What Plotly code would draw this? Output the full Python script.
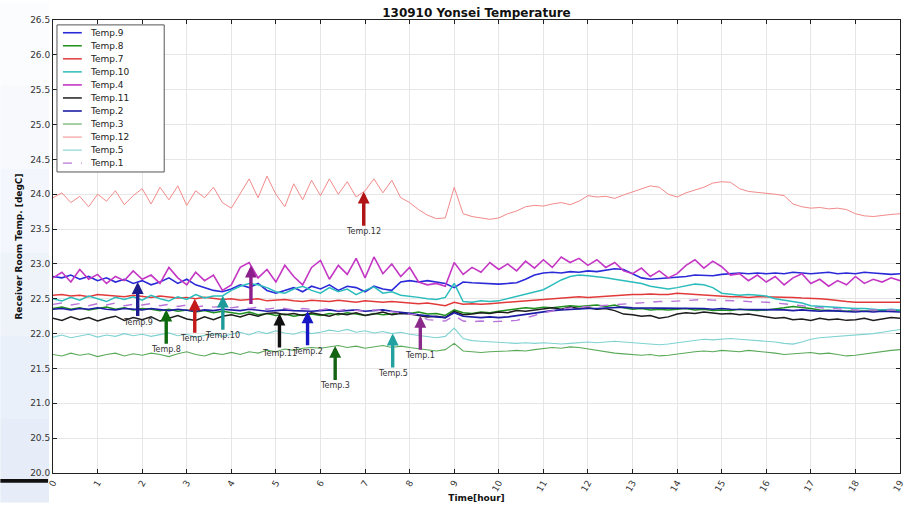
import numpy as np
import plotly.graph_objects as go

# Sample times: every 0.2 hour (12 min) from 0 to 19 h
hours = np.round(np.arange(0, 19.0001, 0.2), 1)

temp9 = [
    22.82, 22.80, 22.84, 22.78, 22.82, 22.76, 22.80, 22.74, 22.78, 22.72,
    22.76, 22.70, 22.74, 22.80, 22.72, 22.78, 22.70, 22.66, 22.62, 22.60,
    22.64, 22.70, 22.66, 22.72, 22.62, 22.58, 22.62, 22.66, 22.60, 22.68,
    22.64, 22.70, 22.62, 22.68, 22.66, 22.60, 22.68, 22.64, 22.62, 22.74,
    22.76, 22.74, 22.76, 22.74, 22.72, 22.66, 22.74, 22.73, 22.72, 22.72,
    22.71, 22.72, 22.73, 22.78, 22.84, 22.87, 22.88, 22.87, 22.89, 22.88,
    22.90, 22.89, 22.91, 22.93, 22.92, 22.86, 22.80, 22.78, 22.79, 22.80,
    22.80, 22.82, 22.84, 22.84, 22.83, 22.85, 22.86, 22.87, 22.86, 22.87,
    22.86, 22.87, 22.86, 22.88, 22.87, 22.86, 22.87, 22.88, 22.86, 22.87,
    22.86, 22.88, 22.87, 22.86, 22.85, 22.86,
]
temp8 = [
    22.36, 22.38, 22.35, 22.37, 22.34, 22.36, 22.38, 22.35, 22.37, 22.34,
    22.36, 22.35, 22.33, 22.35, 22.32, 22.34, 22.31, 22.33, 22.30, 22.32,
    22.30, 22.28, 22.31, 22.27, 22.29, 22.26, 22.28, 22.25, 22.27, 22.28,
    22.26, 22.29, 22.27, 22.30, 22.28, 22.26, 22.29, 22.27, 22.28, 22.30,
    22.29, 22.31, 22.28, 22.29, 22.26, 22.34, 22.30, 22.29, 22.31, 22.30,
    22.32, 22.34, 22.36, 22.37, 22.36, 22.38, 22.37, 22.39, 22.40, 22.39,
    22.40, 22.41, 22.39, 22.41, 22.37, 22.35, 22.36, 22.34, 22.35, 22.34,
    22.35, 22.36, 22.34, 22.35, 22.33, 22.34, 22.33, 22.35, 22.34, 22.33,
    22.34, 22.35, 22.37, 22.39, 22.38, 22.36, 22.34, 22.33, 22.33, 22.32,
    22.33, 22.32, 22.33, 22.34, 22.33, 22.33,
]
temp7 = [
    22.55, 22.56, 22.54, 22.55, 22.53, 22.56, 22.55, 22.54, 22.53, 22.55,
    22.54, 22.52, 22.54, 22.53, 22.51, 22.52, 22.50, 22.52, 22.50, 22.49,
    22.50, 22.48, 22.49, 22.50, 22.47, 22.48, 22.49, 22.47, 22.46, 22.48,
    22.47, 22.46, 22.48, 22.46, 22.45, 22.47, 22.46, 22.45, 22.46, 22.45,
    22.44, 22.43, 22.44, 22.42, 22.40, 22.45, 22.42, 22.43, 22.42, 22.43,
    22.44, 22.45, 22.46, 22.47, 22.48, 22.49, 22.50, 22.51, 22.52, 22.53,
    22.52, 22.53, 22.54, 22.55, 22.55, 22.56, 22.56, 22.57, 22.56, 22.56,
    22.58, 22.57, 22.56, 22.55, 22.54, 22.54, 22.53, 22.53, 22.52, 22.53,
    22.53, 22.52, 22.53, 22.52, 22.51, 22.51, 22.50, 22.49, 22.47, 22.46,
    22.45, 22.45, 22.44, 22.45, 22.44, 22.45,
]
temp10 = [
    22.50, 22.47, 22.52, 22.48, 22.54, 22.50, 22.46, 22.52, 22.49, 22.53,
    22.48, 22.55, 22.50, 22.47, 22.53, 22.49, 22.56, 22.51, 22.54, 22.54,
    22.62, 22.68, 22.72, 22.70, 22.66, 22.60, 22.58, 22.64, 22.68, 22.62,
    22.58, 22.66, 22.60, 22.64, 22.56, 22.62, 22.67, 22.58, 22.60, 22.55,
    22.54, 22.52, 22.50, 22.49, 22.52, 22.72, 22.46, 22.45, 22.47, 22.46,
    22.47, 22.50, 22.54, 22.56, 22.60, 22.63, 22.70, 22.77, 22.82, 22.84,
    22.83, 22.82, 22.80, 22.78, 22.76, 22.74, 22.72, 22.68, 22.66, 22.64,
    22.66, 22.69, 22.71, 22.70, 22.66, 22.58, 22.56, 22.55, 22.56, 22.55,
    22.54, 22.50, 22.48, 22.46, 22.44, 22.40, 22.39, 22.38, 22.38, 22.37,
    22.36, 22.36, 22.35, 22.34, 22.35, 22.34,
]
temp4 = [
    22.80, 22.88, 22.74, 22.92, 22.78, 22.85, 22.72, 22.82, 22.76, 22.90,
    22.78, 22.84, 22.72, 22.95, 22.80, 22.70, 22.88, 22.76, 22.84, 22.62,
    22.70, 22.95, 23.02, 22.80, 22.92, 22.74, 22.98, 22.82, 22.70, 22.95,
    23.05, 22.78, 22.98, 22.85, 23.08, 22.80, 23.10, 22.86, 23.00, 22.82,
    22.95, 22.74, 22.70, 22.72, 22.68, 23.02, 22.85, 22.95, 22.88, 23.02,
    22.92, 23.00, 22.90, 23.04, 22.94, 23.06, 22.95, 23.10, 23.02, 23.08,
    22.98, 23.06, 22.95, 23.02, 22.90, 22.86, 22.94, 22.82, 22.90, 22.80,
    22.86, 22.98, 23.06, 22.94, 23.04, 22.96, 22.84, 22.86, 22.76, 22.84,
    22.74, 22.82, 22.70, 22.80, 22.86, 22.72, 22.78, 22.68, 22.76, 22.70,
    22.82, 22.72, 22.78, 22.74, 22.80, 22.76,
]
temp11 = [
    22.22, 22.19, 22.24, 22.20, 22.23, 22.18, 22.22, 22.25, 22.19, 22.23,
    22.20, 22.24, 22.18, 22.22, 22.26, 22.21, 22.19, 22.24, 22.20, 22.25,
    22.27, 22.24, 22.28, 22.25, 22.29, 22.30, 22.27, 22.29, 22.26, 22.30,
    22.28, 22.25, 22.29, 22.27, 22.30, 22.26, 22.28, 22.31, 22.27, 22.29,
    22.28, 22.26, 22.24, 22.25, 22.23, 22.32, 22.27, 22.28, 22.30, 22.29,
    22.31, 22.30, 22.33, 22.32, 22.34, 22.36, 22.37, 22.35, 22.38, 22.36,
    22.37, 22.35, 22.36, 22.33, 22.28, 22.27, 22.25, 22.26, 22.22, 22.24,
    22.28, 22.30, 22.29, 22.31, 22.30, 22.28, 22.29, 22.27, 22.28, 22.26,
    22.24, 22.22, 22.23, 22.20, 22.21, 22.19, 22.22, 22.20, 22.21, 22.19,
    22.20, 22.22, 22.19, 22.21, 22.23, 22.22,
]
temp2 = [
    22.35, 22.36, 22.34, 22.36, 22.35, 22.37, 22.35, 22.34, 22.36, 22.35,
    22.34, 22.36, 22.35, 22.33, 22.35, 22.34, 22.32, 22.34, 22.33, 22.35,
    22.34, 22.33, 22.35, 22.34, 22.32, 22.33, 22.34, 22.33, 22.32, 22.32,
    22.33, 22.34, 22.32, 22.33, 22.34, 22.32, 22.33, 22.34, 22.32, 22.31,
    22.29, 22.27, 22.25, 22.24, 22.23, 22.30, 22.25, 22.24, 22.23, 22.24,
    22.23, 22.24, 22.26, 22.28, 22.30, 22.31, 22.33, 22.34, 22.35, 22.35,
    22.36, 22.36, 22.37, 22.37, 22.38, 22.37, 22.37, 22.36, 22.37, 22.36,
    22.36, 22.37, 22.36, 22.36, 22.35, 22.36, 22.35, 22.35, 22.34, 22.35,
    22.34, 22.35, 22.34, 22.33, 22.34, 22.33, 22.32, 22.33, 22.32, 22.32,
    22.31, 22.32, 22.31, 22.32, 22.31, 22.31,
]
temp3 = [
    21.70, 21.68, 21.72, 21.69, 21.71, 21.67, 21.70, 21.72, 21.68, 21.71,
    21.69, 21.72, 21.70, 21.67, 21.71, 21.74, 21.70, 21.68, 21.72, 21.70,
    21.73, 21.70, 21.74, 21.72, 21.76, 21.74, 21.78, 21.76, 21.79, 21.80,
    21.79, 21.81, 21.83, 21.80, 21.82, 21.79, 21.81, 21.83, 21.80, 21.82,
    21.80, 21.78, 21.76, 21.75, 21.77, 21.86, 21.75, 21.74, 21.73, 21.74,
    21.74, 21.75, 21.76, 21.75, 21.77, 21.79, 21.80, 21.79, 21.81, 21.80,
    21.78, 21.75, 21.73, 21.72, 21.71, 21.70, 21.69, 21.70, 21.68, 21.69,
    21.71, 21.73, 21.74, 21.75, 21.74, 21.76, 21.75, 21.74, 21.76, 21.75,
    21.74, 21.72, 21.70, 21.71, 21.72, 21.73, 21.71, 21.72, 21.70, 21.68,
    21.69, 21.71, 21.73, 21.74, 21.76, 21.77,
]
temp12 = [
    23.95, 24.02, 23.88, 23.97, 23.82, 24.00, 23.90, 24.05, 23.85, 23.98,
    24.08, 23.86, 24.10, 23.92, 24.12, 23.84, 24.05, 23.95, 24.10, 23.88,
    23.80, 24.02, 24.22, 23.95, 24.26, 24.00, 23.82, 24.15, 23.92, 24.20,
    23.98, 24.22, 24.00, 24.18, 23.96, 24.05, 24.22, 24.02, 24.20, 23.95,
    23.88, 23.78, 23.70, 23.65, 23.66, 24.10, 23.72, 23.68, 23.66, 23.64,
    23.66, 23.72, 23.76, 23.82, 23.84, 23.83, 23.86, 23.88, 23.85, 23.90,
    23.98, 23.96, 23.97, 23.94, 23.99, 24.03, 24.07, 24.12, 24.10, 24.00,
    23.96, 24.02, 24.06, 24.10, 24.16, 24.18, 24.17, 24.08, 24.04, 24.03,
    24.02, 24.00, 23.98, 23.86, 23.82, 23.80, 23.81, 23.79, 23.80, 23.78,
    23.72, 23.69, 23.68, 23.70, 23.71, 23.72,
]
temp5 = [
    21.95, 21.98, 21.94, 21.97, 21.99, 21.95, 21.98, 21.96, 22.00, 21.97,
    21.99, 21.96, 21.98, 22.01, 21.97, 21.99, 21.95, 21.98, 22.00, 21.96,
    21.99, 22.02, 21.98, 22.03, 22.00, 22.04, 22.01, 21.99, 22.03, 22.00,
    22.02, 22.05, 22.03, 22.06, 22.02, 22.04, 22.01, 22.03, 22.00, 22.02,
    21.99, 21.97, 21.95, 21.94, 21.96, 22.08, 21.93, 21.90, 21.89, 21.88,
    21.88, 21.87, 21.86, 21.87, 21.86, 21.87, 21.86, 21.85, 21.86, 21.87,
    21.88, 21.87, 21.88, 21.89, 21.88, 21.87, 21.86, 21.85, 21.84, 21.85,
    21.87, 21.89, 21.91, 21.92, 21.91, 21.92, 21.93, 21.92, 21.91, 21.90,
    21.90, 21.88, 21.86, 21.85, 21.88, 21.92, 21.94, 21.95, 21.96, 21.97,
    21.97, 21.99, 22.00, 22.02, 22.04, 22.06,
]
temp1 = [
    22.42, 22.44, 22.41, 22.43, 22.40, 22.43, 22.41, 22.44, 22.40, 22.42,
    22.41, 22.43, 22.40, 22.42, 22.39, 22.41, 22.38, 22.40, 22.38, 22.39,
    22.37, 22.39, 22.36, 22.38, 22.35, 22.37, 22.36, 22.34, 22.36, 22.35,
    22.34, 22.36, 22.33, 22.35, 22.34, 22.32, 22.34, 22.33, 22.31, 22.30,
    22.28, 22.27, 22.20, 22.19, 22.18, 22.26, 22.18, 22.17, 22.18, 22.17,
    22.17, 22.18, 22.19, 22.22, 22.26, 22.30, 22.33, 22.35, 22.37, 22.38,
    22.39, 22.40, 22.41, 22.42, 22.43, 22.44, 22.45, 22.45, 22.46, 22.46,
    22.47, 22.48, 22.49, 22.49, 22.48, 22.48, 22.47, 22.47, 22.46, 22.46,
    22.45, 22.44, 22.43, 22.42, 22.40, 22.38, 22.37, 22.36, 22.35, 22.34,
    22.34, 22.33, 22.34, 22.33, 22.34, 22.33,
]

# Series in legend order
names = ["Temp.9", "Temp.8", "Temp.7", "Temp.10", "Temp.4", "Temp.11",
         "Temp.2", "Temp.3", "Temp.12", "Temp.5", "Temp.1"]
values = [temp9, temp8, temp7, temp10, temp4, temp11,
          temp2, temp3, temp12, temp5, temp1]
line_colors = ["#2a2ad8", "#1f8f1f", "#e23a3a", "#2cbcbc", "#c437c4", "#1e1e1e",
               "#1c1ca6", "#5aaa5a", "#f28a8a", "#7fd2d2", "#b874d8"]
line_widths = [1.6, 1.5, 1.5, 1.5, 1.6, 1.5, 1.6, 1.1, 1.0, 1.1, 1.4]
line_dashes = ["solid"] * 10 + ["dash"]

# Label arrows: hour where each sensor is tagged, and arrow colour
arrow_hours = {"Temp.9": 1.9, "Temp.8": 2.54, "Temp.7": 3.18, "Temp.10": 3.81,
               "Temp.4": 4.44, "Temp.11": 5.08, "Temp.2": 5.71, "Temp.3": 6.33,
               "Temp.12": 6.97, "Temp.5": 7.62, "Temp.1": 8.24}
arrow_colors = {"Temp.9": "#1c1c8c", "Temp.8": "#0f6a0f", "Temp.7": "#c41a1a",
                "Temp.10": "#1e9a9a", "Temp.4": "#8c1f8c", "Temp.11": "#111111",
                "Temp.2": "#1717c4", "Temp.3": "#136313", "Temp.12": "#b01414",
                "Temp.5": "#23a0a0", "Temp.1": "#8a2a8a"}
hidden_labels = {"Temp.4"}

# Plot-area geometry in pixels (used for legend placement)
W, H = 916, 512
ML, MR, MT, MB = 53, 10, 20, 30
PW, PH = W - ML - MR, H - MT - MB


def px(x):
    return (x - ML) / PW


def py(y):
    return (H - MB - y) / PH


fig = go.Figure()
for name, vals, col, lw, dash in zip(names, values, line_colors, line_widths, line_dashes):
    fig.add_trace(go.Scatter(x=hours, y=vals, mode="lines", name=name,
                             line=dict(color=col, width=lw, dash=dash),
                             showlegend=False))

annotations = []
for name, vals in zip(names, values):
    h = arrow_hours[name]
    yv = float(np.interp(h, hours, vals))
    annotations.append(dict(
        x=h, y=yv, xref="x", yref="y",
        text="" if name in hidden_labels else name,
        showarrow=True, ax=0, ay=40,
        arrowhead=2, arrowsize=0.7, arrowwidth=3.4,
        arrowcolor=arrow_colors[name],
        font=dict(family="DejaVu Sans", size=8, color="#333333"),
    ))

# Legend box drawn as shapes + text
shapes = []
lx0, lx1, ly0, ly1 = 57, 165, 25, 175
shapes.append(dict(type="rect", xref="paper", yref="paper",
                   x0=px(lx0), x1=px(lx1), y0=py(ly1), y1=py(ly0),
                   line=dict(color="#555555", width=1), fillcolor="white", layer="above"))
for i, (name, col, lw, dash) in enumerate(zip(names, line_colors, line_widths, line_dashes)):
    yy = 33 + i * 13.3
    shapes.append(dict(type="line", xref="paper", yref="paper",
                       x0=px(63), x1=px(82), y0=py(yy), y1=py(yy),
                       line=dict(color=col, width=lw, dash=dash), layer="above"))
    annotations.append(dict(x=px(88), y=py(yy), xref="paper", yref="paper",
                            text=name, showarrow=False, xanchor="left", yanchor="middle",
                            font=dict(family="DejaVu Sans", size=9, color="#222222")))

# Slide backdrop at the left edge and bottom-left bar
for k in range(6):
    shapes.append(dict(type="rect", xref="paper", yref="paper",
                       x0=px(0), x1=px(49), y0=py(512 - k * 85), y1=py(512 - (k + 1) * 85),
                       line=dict(width=0), fillcolor="#dbe5f5",
                       opacity=0.7 - k * 0.12, layer="below"))
shapes.append(dict(type="rect", xref="paper", yref="paper",
                   x0=px(0), x1=px(48), y0=py(492), y1=py(488),
                   line=dict(width=0), fillcolor="#111111", layer="above"))

axis_font = dict(family="DejaVu Sans", size=9, color="#333333")
grid_color = "#e6e6e6"
fig.update_layout(
    width=W, height=H,
    margin=dict(l=ML, r=MR, t=MT, b=MB),
    paper_bgcolor="white", plot_bgcolor="white",
    title=dict(text="<b>130910 Yonsei Temperature</b>", x=0.5, xref="paper",
               y=1 - 13 / H, yref="container", yanchor="middle",
               font=dict(family="DejaVu Sans", size=12, color="#111111")),
    xaxis=dict(range=[0, 19], dtick=1, tick0=0, tickangle=-60,
               showgrid=True, gridcolor=grid_color, gridwidth=1,
               showline=True, linecolor="#222222", linewidth=1, mirror="ticks",
               ticks="inside", ticklen=4, tickcolor="#222222",
               tickfont=axis_font, zeroline=False,
               title=dict(text="<b>Time[hour]</b>", standoff=2,
                          font=dict(family="DejaVu Sans", size=9, color="#111111"))),
    yaxis=dict(range=[20, 26.5], dtick=0.5, tick0=20, tickformat=".1f",
               showgrid=True, gridcolor=grid_color, gridwidth=1,
               showline=True, linecolor="#222222", linewidth=1, mirror="ticks",
               ticks="inside", ticklen=4, tickcolor="#222222",
               tickfont=axis_font, zeroline=False,
               title=dict(text="<b>Receiver Room Temp. [degC]</b>", standoff=6,
                          font=dict(family="DejaVu Sans", size=9, color="#111111"))),
    annotations=annotations,
    shapes=shapes,
    showlegend=False,
)

fig.write_html("out.html")
